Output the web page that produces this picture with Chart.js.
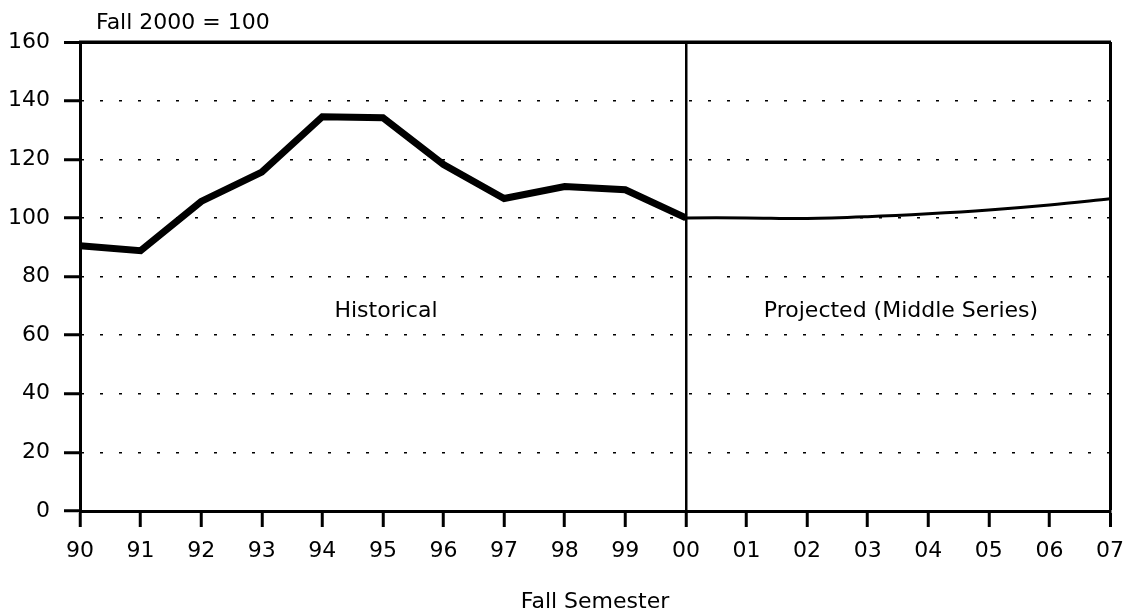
<!DOCTYPE html>
<html>
<head>
<meta charset="utf-8">
<script src="https://cdn.jsdelivr.net/npm/chart.js@4.4.1/dist/chart.umd.min.js"></script>
<style>
  html, body { margin: 0; padding: 0; background: #fff; }
  #wrap { width: 1131px; height: 615px; position: relative; }
</style>
</head>
<body>
<div id="wrap"><canvas id="chart" width="1131" height="615"></canvas></div>
<script>
// ---- data ----
const years      = ['90','91','92','93','94','95','96','97','98','99','00','01','02','03','04','05','06','07'];
const historical = [90.5, 88.8, 105.6, 115.6, 134.5, 134.2, 118.2, 106.6, 110.7, 109.6, 100, null, null, null, null, null, null, null];
const projected  = [null, null, null, null, null, null, null, null, null, null, 100, 100, 99.8, 100.4, 101.4, 102.7, 104.4, 106.5];
const yTicks     = [0, 20, 40, 60, 80, 100, 120, 140, 160];

const FONT = "'DejaVu Sans', 'Liberation Sans', Arial, sans-serif";
const INK  = '#000';
const splitIndex = years.indexOf('00');

// text inside / above the plot
const notesPlugin = {
  id: 'notes',
  afterDraw(chart) {
    const { ctx, scales: { x, y }, chartArea } = chart;
    ctx.save();
    ctx.fillStyle = INK;
    ctx.font = `22px ${FONT}`;
    ctx.textBaseline = 'middle';
    ctx.textAlign = 'left';
    ctx.fillText('Fall 2000 = 100', 96, 23);
    ctx.textAlign = 'center';
    ctx.fillText('Historical', x.getPixelForValue(5.05), y.getPixelForValue(68.3));
    ctx.fillText('Projected (Middle Series)', x.getPixelForValue(13.55), y.getPixelForValue(68.3));
    // frame top edge
    ctx.strokeStyle = INK;
    ctx.lineWidth = 3;
    ctx.beginPath();
    ctx.moveTo(chartArea.left - 1, chartArea.top);
    ctx.lineTo(chartArea.right + 1, chartArea.top);
    ctx.stroke();
    ctx.restore();
  }
};

new Chart(document.getElementById('chart'), {
  type: 'line',
  data: {
    labels: years,
    datasets: [
      { label: 'Historical', data: historical, borderColor: INK, borderWidth: 7,
        pointRadius: 0, tension: 0, borderJoinStyle: 'miter', spanGaps: false },
      { label: 'Projected', data: projected, borderColor: INK, borderWidth: 3,
        pointRadius: 0, tension: 0.35, spanGaps: false }
    ]
  },
  options: {
    responsive: false,
    animation: false,
    layout: { padding: { top: 42, right: 21, left: 0, bottom: 0 } },
    plugins: { legend: { display: false }, tooltip: { enabled: false }, title: { display: false } },
    scales: {
      x: {
        offset: false,
        afterFit(scale) {
          scale.height = 104;
          scale.paddingLeft = 0;
          scale.paddingRight = 0;
        },
        grid: {
          color: c => (c.index === splitIndex || c.index === years.length - 1) ? INK : 'rgba(0,0,0,0)',
          lineWidth: c => c.index === years.length - 1 ? 3 : 2.5,
          tickColor: INK,
          tickWidth: 3,
          tickLength: 16
        },
        border: { display: true, color: INK, width: 3 },
        ticks: { color: INK, font: { family: FONT, size: 22 }, padding: 11, maxRotation: 0, autoSkip: false },
        title: { display: true, text: 'Fall Semester', color: INK,
                 font: { family: FONT, size: 22 }, padding: { top: 0, bottom: 0 } }
      },
      y: {
        min: 0,
        max: 160,
        afterFit(scale) { scale.width = 80; },
        afterBuildTicks(scale) { scale.ticks = yTicks.map(v => ({ value: v })); },
        grid: {
          color: c => (c.tick && (c.tick.value === 0)) ? 'rgba(0,0,0,0)' : INK,
          lineWidth: c => (c.tick && c.tick.value === 160) ? 3 : 1.5,
          tickColor: INK,
          tickWidth: 3,
          tickLength: 16
        },
        border: {
          display: true, color: INK, width: 3,
          dash: c => (c.tick && c.tick.value === 160) ? [] : [3, 16],
          dashOffset: -18
        },
        ticks: { color: INK, font: { family: FONT, size: 22 }, padding: 14 }
      }
    }
  },
  plugins: [notesPlugin]
});
</script>
</body>
</html>
